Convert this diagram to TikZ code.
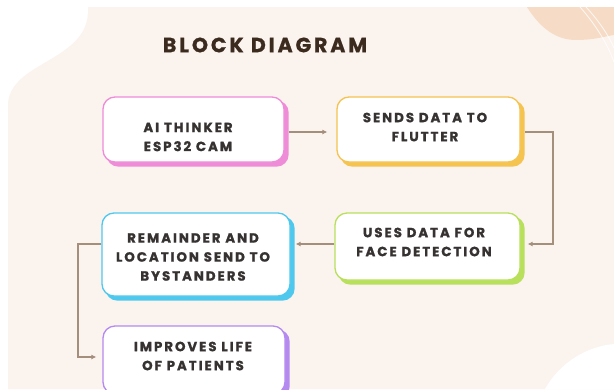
\documentclass[tikz,border=0pt]{standalone}
\usepackage{fontspec}
\usetikzlibrary{arrows.meta,backgrounds}
\newfontfamily\titlefont{Poppins}[LetterSpace=14, BoldFeatures={FakeBold=0.8}]
\newfontfamily\boxfont{Poppins}[LetterSpace=15, BoldFeatures={FakeBold=1.2}]
\definecolor{page}{HTML}{FBF3EE}
\definecolor{peach}{HTML}{F6DCC6}
\definecolor{ink}{HTML}{363232}
\definecolor{titleink}{HTML}{3B2A1E}
\definecolor{wire}{HTML}{A48E7C}
\definecolor{cpink}{HTML}{EE8CD8}
\definecolor{corange}{HTML}{F5C350}
\definecolor{cgreen}{HTML}{B9E05C}
\definecolor{ccyan}{HTML}{4FC8EE}
\definecolor{cpurple}{HTML}{B48AF0}
\tikzset{
  blockbox/.style={draw=#1, line width=1.3pt, fill=white, rounded corners=12pt, inner sep=0pt},
  blockshadow/.style={fill=#1, rounded corners=12pt},
  blocktext/.style={align=center, text=ink, font=\boxfont\bfseries\fontsize{13.3}{19}\selectfont, inner sep=0pt},
  conn/.style={draw=wire, line width=1.3pt, -{Latex[length=5pt,width=5pt]}},
}
\begin{document}
\begin{tikzpicture}[x=1pt,y=-1pt]
\useasboundingbox (0,0) rectangle (614,389);
\clip (0,0) rectangle (614,389);

% title
\node[text=titleink, font=\titlefont\bfseries\fontsize{20.5}{25}\selectfont] (title) at (265,45) {BLOCK DIAGRAM};

% blocks
\node[blockbox=cpink, minimum width=181pt, minimum height=65pt] (b1) at (193.5,129.5) {};
\node[blockbox=corange, minimum width=183pt, minimum height=65pt] (b2) at (428.5,129.5) {};
\node[blockbox=cgreen, minimum width=185pt, minimum height=67pt] (b3) at (427.5,246.5) {};
\node[blockbox=ccyan, minimum width=188pt, minimum height=83pt] (b4) at (196,254.5) {};
\node[blockbox=cpurple, minimum width=182pt, minimum height=68pt] (b5) at (194,360) {};

\begin{pgfonlayer}{background}
  % page and decorative backdrop
  \fill[white] (0,0) rectangle (614,389);
  \fill[page] (88,7) -- (614,7) -- (614,389) -- (8,389) -- (8,105)
    .. controls (8,92) and (16,80) .. (36,68)
    .. controls (62,52) and (90,40) .. (88,7) -- cycle;
  \fill[peach] (527,7) .. controls (540,28) and (556,40) .. (576,40)
    .. controls (595,40) and (606,36) .. (614,35) -- (614,7) -- cycle;
  \draw[white, line width=0.8pt, opacity=0.8] (580,7) .. controls (596,25) and (608,45) .. (614,62);
  \draw[white, line width=0.8pt, opacity=0.8] (586,7) .. controls (600,22) and (610,38) .. (614,48);
  \fill[white] (545,389) .. controls (560,362) and (588,346) .. (614,344) -- (614,389) -- cycle;
  % offset colour shadows behind each block
  \foreach \b/\c in {b1/cpink,b2/corange,b3/cgreen,b4/ccyan,b5/cpurple}{
    \fill[blockshadow=\c] ([shift={(4,4)}]\b.south west) rectangle ([shift={(4,4)}]\b.north east);
  }
\end{pgfonlayer}

% block labels
\node[blocktext] (t1) at (188,137) {AI THINKER\\ESP32 CAM};
\node[blocktext] (t2) at (425,127) {SENDS DATA TO\\FLUTTER};
\node[blocktext] (t3) at (424,242) {USES DATA FOR\\FACE DETECTION};
\node[blocktext] (t4) at (193,257) {REMAINDER AND\\LOCATION SEND TO\\BYSTANDERS};
\node[blocktext] (t5) at (193,356) {IMPROVES LIFE\\OF PATIENTS};

% connectors
\coordinate (r1) at (0,132);
\coordinate (r2) at (0,244);
\coordinate (k2) at (553,244);
\coordinate (k4) at (78,357);
\draw[conn, shorten <=4pt, shorten >=9pt] (b1.east |- r1) -- (b2.west |- r1);
\draw[conn, shorten <=4pt, shorten >=7pt] (b2.east |- r1) -| (k2) -- (b3.east |- k2);
\draw[conn, shorten >=5pt] (b3.west |- r2) -- (b4.east |- r2);
\draw[conn, shorten >=6pt] (b4.west |- r2) -| (k4) -- (b5.west |- k4);
\end{tikzpicture}
\end{document}
